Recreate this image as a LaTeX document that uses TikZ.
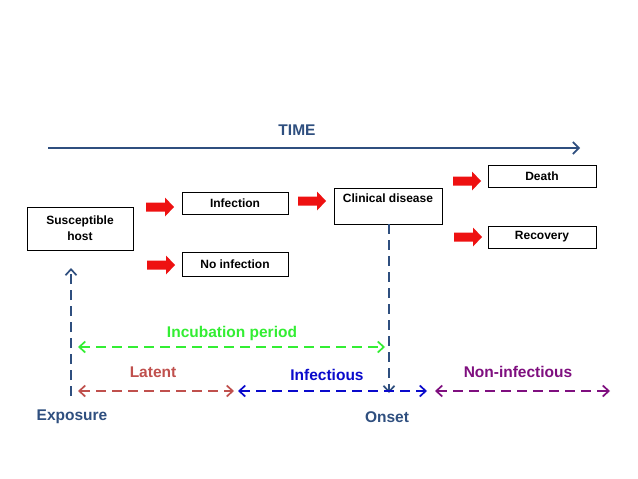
\documentclass[tikz,border=0pt]{standalone}
\usepackage{fontspec}
\setmainfont{Liberation Sans}
\usetikzlibrary{arrows.meta}
\definecolor{navy}{HTML}{2F4F7F}
\definecolor{incub}{HTML}{33EE33}
\definecolor{latent}{HTML}{C0504D}
\definecolor{infect}{HTML}{0A0ACC}
\definecolor{noninf}{HTML}{7F0F7F}
\definecolor{redarr}{HTML}{EE1111}
\tikzset{
  x=1pt, y=-1pt,
  box/.style={draw, line width=0.8pt, font=\bfseries\fontsize{12}{14}\selectfont, inner sep=0pt, align=center},
  dsh/.style={line width=2pt, dash pattern=on 10pt off 6pt, >={Straight Barb[length=6pt,width=11pt,line width=1.7pt]}},
  lbl/.style={font=\bfseries\fontsize{15.5}{18}\selectfont},
  redarrow/.pic={\fill[redarr] (-14,-4.5) -- (5,-4.5) -- (5,-9.5) -- (14,0) -- (5,9.5) -- (5,4.5) -- (-14,4.5) -- cycle;}
}
\begin{document}
\begin{tikzpicture}
\useasboundingbox (0,0) rectangle (638,479);
\fill[white] (0,0) rectangle (638,479);
% time
\node[lbl, text=navy] (time) at (297,130) {TIME};
\coordinate (t0) at (48,148);
\coordinate (t1) at (580,148);
\draw[navy, line width=2pt, -{Straight Barb[length=6pt,width=12pt,line width=1.6pt]}] (t0) -- (t1);
% boxes
\node[box, minimum width=106pt, minimum height=43pt] (host) at (80,228.5) {Susceptible\\[2pt]host};
\node[box, minimum width=106pt, minimum height=22pt] (inf) at (235,203) {Infection};
\node[box, minimum width=106pt, minimum height=24pt] (noinf) at (235,264) {No infection};
\node[box, minimum width=108pt, minimum height=36pt] (clin) at (388,206) {};
\node[font=\bfseries\fontsize{12}{14}\selectfont] (clint) at (388,198) {Clinical disease};
\node[box, minimum width=108pt, minimum height=22pt] (death) at (542,176) {Death};
\node[box, minimum width=108pt, minimum height=22pt] (rec) at (542,237) {Recovery};
% red arrows
\pic (r1) at (160,207) {redarrow};
\pic (r2) at (161,265) {redarrow};
\pic (r3) at (312,201) {redarrow};
\pic (r4) at (467,181) {redarrow};
\pic (r5) at (468,237) {redarrow};
% vertical dashed
\coordinate (onsetTip) at (389,393);
\draw[navy, dsh, ->] (clin.south -| onsetTip) -- (onsetTip);
\coordinate (expBot) at (71,396);
\coordinate (expTop) at (71,268);
\draw[navy, dsh, ->] (expBot) -- (expTop);
% periods
\coordinate (i0) at (78,347); \coordinate (i1) at (385,347);
\draw[incub, dsh, <->] (i0) -- (i1);
\node[lbl, text=incub] (incl) at (232,333) {Incubation period};
\coordinate (l0) at (78,391); \coordinate (l1) at (234,391);
\draw[latent, dsh, <->] (l0) -- (l1);
\node[lbl, text=latent] (latl) at (153,372) {Latent};
\coordinate (f0) at (238,391); \coordinate (f1) at (427,391);
\draw[infect, dsh, <->] (f0) -- (f1);
\node[lbl, text=infect] (infl) at (327,375) {Infectious};
\coordinate (n0) at (435,391); \coordinate (n1) at (610,391);
\draw[noninf, dsh, <->] (n0) -- (n1);
\node[lbl, text=noninf] (nonl) at (518,372) {Non-infectious};
% bottom labels
\node[lbl, text=navy] (exp) at (72,417) {Exposure};
\node[lbl, text=navy] (ons) at (387,417) {Onset};
\end{tikzpicture}
\end{document}
